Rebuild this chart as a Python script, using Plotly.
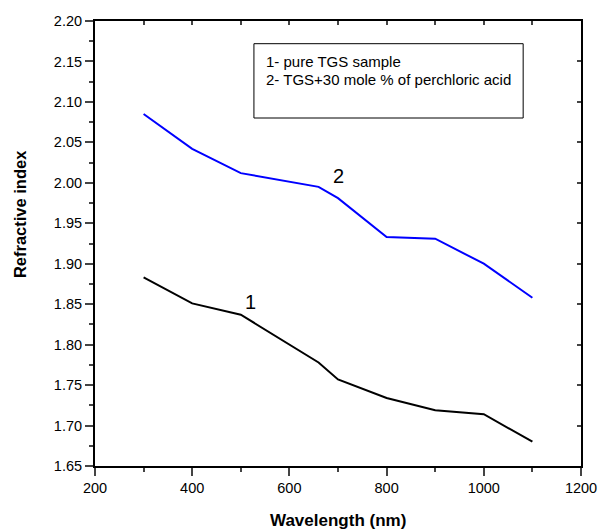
import plotly.graph_objects as go

wavelength = [300, 400, 500, 660, 700, 800, 900, 1000, 1100]
n_pure = [1.883, 1.851, 1.837, 1.778, 1.757, 1.734, 1.719, 1.714, 1.680]
n_doped = [2.085, 2.042, 2.012, 1.995, 1.981, 1.933, 1.931, 1.900, 1.858]

legend_lines = ["1- pure TGS sample", "2- TGS+30 mole % of perchloric acid"]
x_title = "Wavelength (nm)"
y_title = "Refractive index"

FONT = "Liberation Sans, Arial, sans-serif"

fig = go.Figure()
fig.add_trace(go.Scatter(x=wavelength, y=n_pure, mode="lines",
                         line=dict(color="black", width=2), showlegend=False))
fig.add_trace(go.Scatter(x=wavelength, y=n_doped, mode="lines",
                         line=dict(color="#0000ff", width=2), showlegend=False))
fig.add_trace(go.Scatter(x=[], y=[], xaxis="x2", yaxis="y2", showlegend=False))

fig.update_layout(
    width=598, height=531,
    margin=dict(l=95, r=17, t=21, b=65),
    paper_bgcolor="white", plot_bgcolor="white",
    font=dict(family=FONT, size=14.5, color="black"),
    xaxis=dict(range=[200, 1200], tick0=200, dtick=200, ticks="outside", ticklen=8,
               tickwidth=1.5, showline=True, linewidth=2, linecolor="black",
               showgrid=False, zeroline=False, automargin=False,
               minor=dict(dtick=100, tick0=200, ticks="outside", ticklen=4, tickwidth=1.5)),
    yaxis=dict(range=[1.65, 2.20], tick0=1.65, dtick=0.05, tickformat=".2f",
               ticks="outside", ticklen=8, tickwidth=1.5, showline=True, linewidth=2,
               linecolor="black", showgrid=False, zeroline=False, automargin=False,
               minor=dict(dtick=0.025, tick0=1.65, ticks="outside", ticklen=4, tickwidth=1.5)),
    xaxis2=dict(range=[200, 1200], overlaying="x", side="top", tick0=200, dtick=100,
                ticks="inside", ticklen=4, tickwidth=1.5, showticklabels=False, automargin=False,
                showline=True, linewidth=2, linecolor="black", showgrid=False, zeroline=False),
    yaxis2=dict(range=[1.65, 2.20], overlaying="y", side="right", tick0=1.65, dtick=0.05,
                ticks="inside", ticklen=4, tickwidth=1.5, showticklabels=False, automargin=False,
                showline=True, linewidth=2, linecolor="black", showgrid=False, zeroline=False),
    shapes=[dict(type="rect", xref="paper", yref="paper", x0=0.327, x1=0.881,
                 y0=0.782, y1=0.949, line=dict(color="black", width=1), fillcolor="white")],
)

fig.add_annotation(x=0.347, y=0.909, xref="paper", yref="paper", text=legend_lines[0],
                   showarrow=False, xanchor="left", yanchor="middle", font=dict(size=15))
fig.add_annotation(x=0.347, y=0.868, xref="paper", yref="paper", text=legend_lines[1],
                   showarrow=False, xanchor="left", yanchor="middle", font=dict(size=15))

fig.add_annotation(x=520, y=1.853, text="1", showarrow=False, font=dict(size=20))
fig.add_annotation(x=700, y=2.009, text="2", showarrow=False, font=dict(size=20))

fig.add_annotation(x=0.5, y=-0.122, xref="paper", yref="paper", text="<b>" + x_title + "</b>",
                   showarrow=False, xanchor="center", yanchor="middle", font=dict(size=17))
fig.add_annotation(x=-0.1544, y=0.566, xref="paper", yref="paper", text="<b>" + y_title + "</b>",
                   showarrow=False, textangle=-90, xanchor="center", yanchor="middle",
                   font=dict(size=16.5))

fig.write_html("out.html", config={"displayModeBar": False},
               post_script="document.body.style.margin='0';document.body.style.overflow='hidden';")
